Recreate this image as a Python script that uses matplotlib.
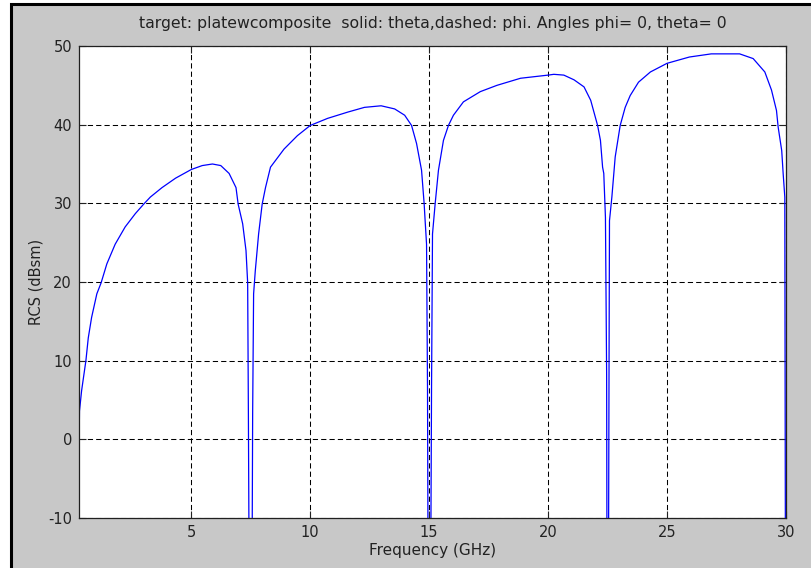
import numpy as np
import matplotlib.pyplot as plt
from matplotlib.patches import Rectangle

freq = [0.28, 0.30, 0.39, 0.57, 0.67, 0.81, 1.03, 1.21, 1.45, 1.80, 2.22, 2.65,
        3.00, 3.28, 3.77, 4.34, 5.00, 5.46, 5.89, 6.24, 6.59, 6.88, 6.97, 7.16,
        7.30, 7.37, 7.40, 7.50,
        7.58, 7.62, 7.69, 7.83, 7.98, 8.12, 8.33, 8.90, 9.46, 10.00, 10.73,
        11.58, 12.28, 12.98, 13.55, 13.97, 14.26, 14.47, 14.68, 14.79, 14.83,
        14.89, 14.93, 15.00,
        15.10, 15.14, 15.25, 15.39, 15.60, 15.81, 16.02, 16.44, 17.15, 17.85,
        18.84, 20.00, 20.24, 20.66, 21.09, 21.51, 21.79, 22.08, 22.20, 22.29,
        22.34, 22.41, 22.46, 22.50,
        22.56, 22.58, 22.68, 22.82, 23.03, 23.24, 23.45, 23.80, 24.30, 25.00,
        25.94, 26.86, 28.05, 28.62, 29.11, 29.39, 29.60, 29.67, 29.82, 29.88,
        29.95, 30.00]
rcs = [-1.9, 3.6, 6.2, 10.0, 12.9, 15.5, 18.5, 19.9, 22.3, 24.8, 27.0, 28.7,
       29.9, 30.8, 32.0, 33.2, 34.3, 34.8, 35.0, 34.8, 33.8, 32.0, 29.9, 27.4,
       24.0, 19.9, 3.6, -60.0,
       3.4, 18.5, 21.4, 26.1, 29.9, 32.0, 34.6, 36.9, 38.6, 39.9, 40.8,
       41.6, 42.2, 42.4, 42.0, 41.2, 39.9, 37.6, 34.2, 29.9, 27.8,
       24.8, 6.6, -60.0,
       6.6, 26.1, 29.9, 34.2, 38.0, 39.9, 41.2, 42.9, 44.2, 45.0,
       45.9, 46.3, 46.4, 46.3, 45.7, 44.8, 43.1, 39.9, 38.0, 34.6,
       33.8, 28.2, 8.3, -60.0,
       8.3, 27.8, 30.8, 35.9, 39.9, 42.2, 43.7, 45.4, 46.7, 47.8,
       48.6, 49.0, 49.0, 48.4, 46.7, 44.4, 41.8, 39.7, 36.7, 33.8,
       30.8, -60.0]

xticks = [5, 10, 15, 20, 25, 30]
yticks = [-10, 0, 10, 20, 30, 40, 50]

plt.rcParams['font.family'] = ['DejaVu Sans']
plt.rcParams['axes.unicode_minus'] = False

fig = plt.figure(figsize=(8.11, 5.68), dpi=100, facecolor='white')
# grey window with black frame on the left and top
fig.patches.append(Rectangle((11 / 811, -0.05), 1.1, 1.05 - 4 / 568,
                             transform=fig.transFigure, facecolor='#c8c8c8',
                             edgecolor='black', linewidth=2.2, zorder=-1))

ax = fig.add_axes([79 / 811, 1 - 518 / 568, (786 - 79) / 811, (518 - 46) / 568])
ax.set_facecolor('white')
ax.plot(freq, rcs, color='#0000ff', linewidth=0.9)
ax.set_xlim(freq[0], 30)
ax.set_ylim(-10, 50)
ax.set_xticks(xticks)
ax.set_yticks(yticks)
ax.grid(True, color='black', linestyle=(0, (5, 3)), linewidth=0.75)
ax.tick_params(direction='in', length=5, width=0.8, top=True, right=True,
               labelsize=10.5, colors='#222222', pad=5)
for s in ax.spines.values():
    s.set_linewidth(0.9)
    s.set_color('#202020')

ax.set_xlabel('Frequency (GHz)', fontsize=11, labelpad=2, color='#222222')
ax.set_ylabel('RCS (dBsm)', fontsize=10.5, labelpad=3, color='#222222')
ax.set_title('target: platewcomposite  solid: theta,dashed: phi. Angles phi= 0, theta= 0',
             fontsize=11.3, pad=13, color='#222222')

fig.savefig('out.png', dpi=100, facecolor=fig.get_facecolor())
